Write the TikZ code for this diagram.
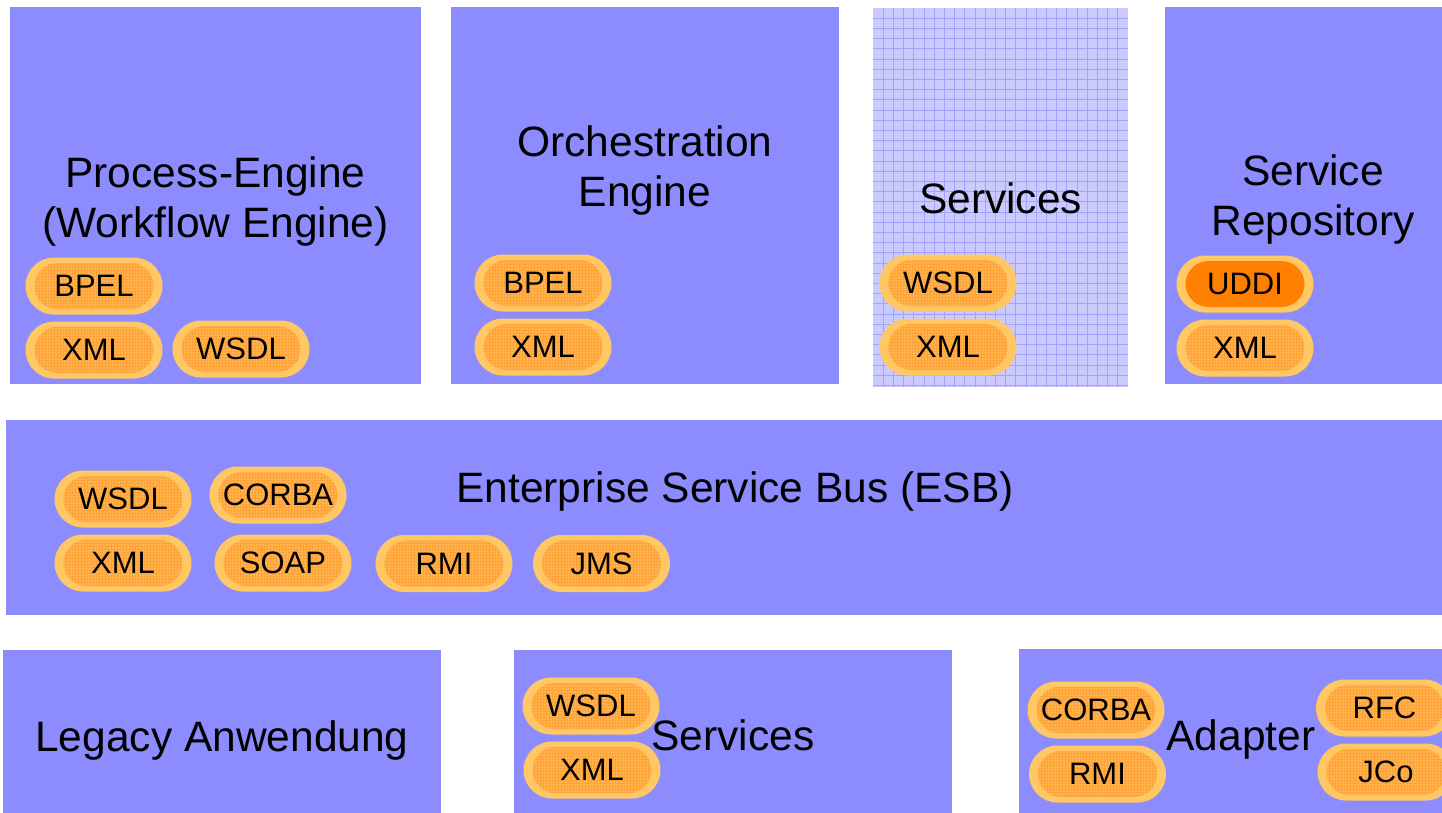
\documentclass[tikz,border=0pt]{standalone}
\usepackage{fontspec}
\setmainfont{Liberation Sans}
\usetikzlibrary{patterns}

\definecolor{layerblue}{HTML}{8C8CFF}
\definecolor{gridbg}{HTML}{CACAFF}
\definecolor{gridln}{HTML}{A3A3FF}
\definecolor{pillrim}{HTML}{FFC864}
\definecolor{pillcore}{HTML}{FFB54E}
\definecolor{pillweave}{HTML}{FFA23A}
\definecolor{uddicore}{HTML}{FF8000}

% inner face of a capsule, inset from its rim
\newcommand\capsulecore[1]{%
  \fill[#1, rounded corners=23pt]
    ([xshift=9pt,yshift=5.5pt]path picture bounding box.south west)
    rectangle
    ([xshift=-9pt,yshift=-5.5pt]path picture bounding box.north east);}

\tikzset{
  layer/.style={fill=layerblue},
  title/.style={font=\fontsize{42.5}{50}\selectfont, inner sep=0pt, align=center},
  capsule/.style={fill=pillrim, rounded corners=28.5pt,
    minimum width=137pt, minimum height=57pt, inner sep=0pt,
    font=\fontsize{31}{37}\selectfont},
  pill/.style={capsule, path picture={\capsulecore{pillcore}%
      \capsulecore{pattern=grid, pattern color=pillweave}}},
  hotpill/.style={capsule, path picture={\capsulecore{uddicore}}},
}

\begin{document}
\begin{tikzpicture}[x=1pt, y=-1pt]
\useasboundingbox (0,0) rectangle (1442,813);
\clip (0,0) rectangle (1442,813);

% ---- top row ----
\fill[layer] (10,7) rectangle (421,384);
\fill[layer] (451,7) rectangle (839,384);
\fill[gridbg] (873,8) rectangle (1128,387);
\foreach \i in {1,...,24}
  \draw[gridln, line width=0.8pt] ({873+\i*10.2},8) -- ({873+\i*10.2},387);
\foreach \j in {1,...,37}
  \draw[gridln, line width=0.8pt] (873,{8+\j*10.2}) -- (1128,{8+\j*10.2});
\fill[layer] (1165,7) rectangle (1442,384);

\node[title] (pe) at (215.5,202) {Process-Engine\\(Workflow Engine)};
\node[title] (oe) at (645,170.6) {Orchestration\\Engine};
\node[title, anchor=base] (sv) at (1000.5,213) {Services};
\node[title] (sr) at (1313,200) {Service\\Repository};

\node[pill] (pe-bpel) at (94,286) {BPEL};
\node[pill] (pe-xml)  at (94,350) {XML};
\node[pill] (pe-wsdl) at (241,349) {WSDL};

\node[pill] (oe-bpel) at (543,283) {BPEL};
\node[pill] (oe-xml)  at (543,347) {XML};

\node[pill] (sv-wsdl) at (948,283) {WSDL};
\node[pill] (sv-xml)  at (948,347) {XML};

\node[hotpill] (sr-uddi) at (1245,284) {UDDI};
\node[pill]    (sr-xml)  at (1245,348) {XML};

% ---- bus ----
\fill[layer] (6,420) rectangle (1442,615);
\node[title, anchor=base] (esb) at (735,502) {Enterprise Service Bus (ESB)};
\node[pill] (esb-wsdl)  at (123,499) {WSDL};
\node[pill] (esb-corba) at (278,495) {CORBA};
\node[pill] (esb-xml)   at (123,563) {XML};
\node[pill] (esb-soap)  at (283,563) {SOAP};
\node[pill] (esb-rmi)   at (444,563.5) {RMI};
\node[pill] (esb-jms)   at (601.5,563.5) {JMS};

% ---- bottom row ----
\fill[layer] (3,650) rectangle (441,813);
\fill[layer] (514,650) rectangle (952,813);
\fill[layer] (1019,649) rectangle (1442,813);

\node[title, anchor=base] (legacy) at (222,751) {Legacy Anwendung};
\node[title, anchor=base] (bsv) at (733,750) {Services};
\node[title, anchor=base] (adp) at (1241,750) {Adapter};

\node[pill] (bsv-wsdl) at (591,706) {WSDL};
\node[pill] (bsv-xml)  at (592,770) {XML};

\node[pill] (adp-corba) at (1096,710) {CORBA};
\node[pill] (adp-rmi)   at (1097.5,774) {RMI};
\node[pill] (adp-rfc)   at (1384.5,708) {RFC};
\node[pill] (adp-jco)   at (1386,772) {JCo};
\end{tikzpicture}
\end{document}
